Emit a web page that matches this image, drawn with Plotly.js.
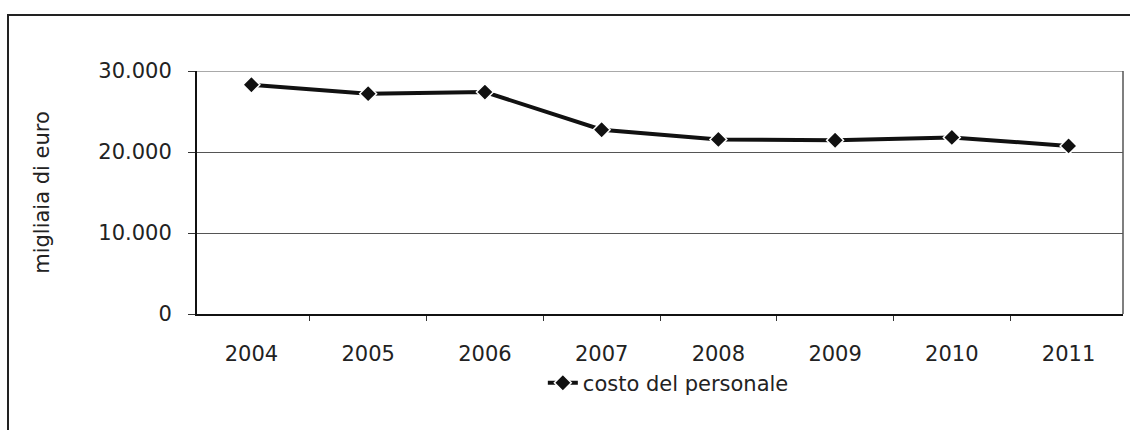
<!DOCTYPE html>
<html>
<head>
<meta charset="utf-8">
<script src="https://cdn.plot.ly/plotly-3.0.1.min.js"></script>
<style>
  html, body { margin: 0; padding: 0; background: #fff; }
  #chart { width: 1130px; height: 430px; }
  #frame { position: absolute; left: 7px; top: 14px; width: 1130px; height: 430px;
           border-top: 2px solid #222; border-left: 2px solid #222; pointer-events: none; }
</style>
</head>
<body>
<div id="chart"></div>
<div id="frame"></div>
<script>
const years = ['2004', '2005', '2006', '2007', '2008', '2009', '2010', '2011'];
const costoPersonale = [28300, 27200, 27400, 22750, 21550, 21450, 21800, 20750];
const yTickVals = [0, 10000, 20000, 30000];
const yMax = 30000;
const seriesName = 'costo del personale';
const yTitle = 'migliaia di euro';

const trace = {
  x: years,
  y: costoPersonale,
  type: 'scatter',
  mode: 'lines+markers',
  name: seriesName,
  line: { color: '#111', width: 4 },
  marker: { symbol: 'diamond', size: 13, color: '#111', line: { color: '#fff', width: 1.5 } },
  showlegend: true
};

const layout = {
  width: 1130,
  height: 430,
  margin: { l: 197, r: 7, t: 71, b: 116, autoexpand: false },
  paper_bgcolor: '#fff',
  plot_bgcolor: '#fff',
  separators: ',.',
  font: { family: 'DejaVu Sans, Verdana, sans-serif', size: 21, color: '#222' },
  xaxis: {
    type: 'category',
    tickson: 'boundaries',
    ticks: 'outside',
    ticklen: 5,
    tickwidth: 1,
    tickcolor: '#333',
    showline: true,
    linecolor: '#111',
    linewidth: 2,
    showgrid: false,
    ticklabelstandoff: 20,
    tickfont: { size: 21, color: '#222' },
    fixedrange: true
  },
  yaxis: {
    range: [0, yMax],
    tickvals: yTickVals,
    tickformat: ',d',
    ticks: 'outside',
    ticklen: 7,
    tickcolor: '#333',
    showline: true,
    linecolor: '#111',
    linewidth: 2,
    showgrid: true,
    gridcolor: '#555',
    gridwidth: 1,
    zeroline: false,
    ticklabelstandoff: 12,
    tickfont: { size: 21, color: '#222' },
    title: { text: yTitle, font: { size: 21, color: '#222' }, standoff: 43 },
    fixedrange: true
  },
  shapes: [
    { type: 'line', xref: 'paper', yref: 'paper', x0: 1, x1: 1, y0: 0, y1: 1,
      line: { color: '#555', width: 1.5 } },
    { type: 'line', xref: 'paper', yref: 'y', x0: 0, x1: 1, y0: yMax, y1: yMax,
      line: { color: '#555', width: 1 } }
  ],
  legend: {
    orientation: 'h',
    x: 0.509, xanchor: 'center',
    y: -0.2, yanchor: 'top',
    font: { size: 21, color: '#222' },
    bgcolor: 'rgba(0,0,0,0)'
  }
};

Plotly.newPlot('chart', [trace], layout, { displayModeBar: false, staticPlot: true });
</script>
</body>
</html>
